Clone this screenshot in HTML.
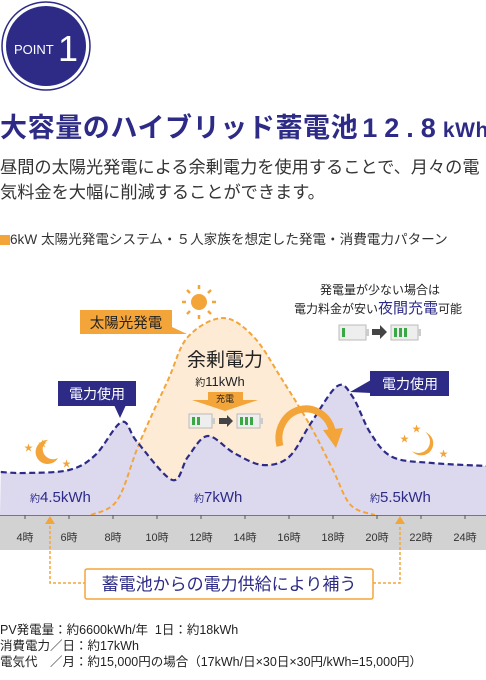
<!DOCTYPE html>
<html><head><meta charset="utf-8">
<style>
body{margin:0;width:486px;height:680px;overflow:hidden;background:#fff;font-family:"Liberation Sans","Noto Sans CJK JP",sans-serif;}
.abs{position:absolute;white-space:nowrap;}
</style></head>
<body>
<div style="position:relative;width:486px;height:680px;">
<svg width="486" height="100" style="position:absolute;left:0;top:0">
<circle cx="46" cy="46" r="44" fill="#fff" stroke="#2d2b86" stroke-width="1.5"/>
<circle cx="46" cy="46" r="40" fill="#2d2b86"/>
<text x="14" y="54" font-size="13" fill="#fff" font-family="Liberation Sans">POINT</text>
<text x="58" y="61" font-size="36" fill="#fff" font-family="Liberation Sans">1</text>
</svg>
<div class="abs" style="left:0;top:106px;font-size:27px;font-weight:bold;color:#2d2b86;letter-spacing:0.6px;">大容量のハイブリッド蓄電池<span style="letter-spacing:7px;margin-left:4px">12.8</span><span style="font-size:21px">kWh</span></div>
<div class="abs" style="left:0;top:155px;font-size:17.2px;line-height:25px;color:#333;">昼間の太陽光発電による余剰電力を使用することで、月々の電<br>気料金を大幅に削減することができます。</div>
<div class="abs" style="left:0;top:228px;font-size:13.6px;color:#333;"><span style="display:inline-block;width:10px;height:10px;background:#f3a53a;vertical-align:-1px;"></span>6kW 太陽光発電システム・５人家族を想定した発電・消費電力パターン</div>

<svg id="chart" width="486" height="680" style="position:absolute;left:0;top:0"></svg>

<div class="abs" style="left:0;top:622px;font-size:12.5px;line-height:16px;color:#222;">PV発電量：約6600kWh/年&nbsp; 1日：約18kWh<br>消費電力／日：約17kWh<br>電気代　／月：約15,000円の場合（17kWh/日×30日×30円/kWh=15,000円）</div>
</div>
<script>
const usageHours=[2.9,4,6,7.2,8.4,9.1,10.7,11.4,12.3,13.5,14.8,16,17,18.2,18.9,19.7,20.7,22.5,25];
const usageValues=[2.15,2.1,2.25,3.0,4.65,3.65,1.75,2.9,3.95,3.1,2.5,2.9,4.6,6.45,5.9,4.1,2.9,2.6,2.45];
const solarHours=[7.0,8.2,9.2,10.5,11.4,13.0,14.4,15.7,17.0,18.0,18.8,19.9];
const solarValues=[0,0.75,3.6,6.75,8.9,9.85,8.9,6.75,4.4,2.25,0.5,0];
const tickHours=[4,6,8,10,12,14,16,18,20,22,24];
const tickLabels=["4時","6時","8時","10時","12時","14時","16時","18時","20時","22時","24時"];
const NS="http://www.w3.org/2000/svg";
const svg=document.getElementById('chart');
const xs=h=>25+(h-4)*22;
const ys=v=>515-v*20;
function mk(tag,attrs,parent){const e=document.createElementNS(NS,tag);for(const k in attrs)e.setAttribute(k,attrs[k]);(parent||svg).appendChild(e);return e;}
function smooth(pts){let d=`M${pts[0][0]},${pts[0][1]}`;for(let i=0;i<pts.length-1;i++){const p0=pts[i-1]||pts[i],p1=pts[i],p2=pts[i+1],p3=pts[i+2]||p2;const c1=[p1[0]+(p2[0]-p0[0])/6,p1[1]+(p2[1]-p0[1])/6],c2=[p2[0]-(p3[0]-p1[0])/6,p2[1]-(p3[1]-p1[1])/6];d+=` C${c1[0]},${c1[1]} ${c2[0]},${c2[1]} ${p2[0]},${p2[1]}`;}return d;}
const up=usageHours.map((h,i)=>[xs(h),ys(usageValues[i])]);
const sp=solarHours.map((h,i)=>[xs(h),ys(solarValues[i])]);
const sd=smooth(sp), ud=smooth(up);
let e;
e=mk('path',{d:sd+` L${sp[0][0]},515 Z`,fill:'#fdebd6'});


e=mk('path',{d:ud+` L486,515 L0,515 Z`,fill:'#dcd9ef'});


e=mk('path',{d:sd,fill:'none',stroke:'#f3a53a','stroke-width':2,'stroke-dasharray':'5,3'});


e=mk('path',{d:ud,fill:'none',stroke:'#2d2b86','stroke-width':2.2,'stroke-dasharray':'6,3.5'});


e=mk('rect',{x:0,y:515,width:486,height:35,fill:'#d2d2d2'});


mk('line',{x1:0,y1:515.5,x2:486,y2:515.5,stroke:'#777','stroke-width':1});
tickHours.forEach((h,i)=>{
 mk('line',{x1:xs(h),y1:515,x2:xs(h),y2:519,stroke:'#555','stroke-width':1});
 const t=mk('text',{x:xs(h),y:541,'font-size':11,'text-anchor':'middle',fill:'#333'});
 t.textContent=tickLabels[i];
 
 
});
</script>
<svg width="486" height="680" style="position:absolute;left:0;top:0">
<g fill="#f3a53a">
<circle cx="199" cy="302" r="8"/>
<g stroke="#f3a53a" stroke-width="2.5"><line x1="199" y1="285" x2="199" y2="289"/><line x1="199" y1="315" x2="199" y2="319"/><line x1="182" y1="302" x2="186" y2="302"/><line x1="212" y1="302" x2="216" y2="302"/><line x1="187" y1="290" x2="190" y2="293"/><line x1="208" y1="311" x2="211" y2="314"/><line x1="187" y1="314" x2="190" y2="311"/><line x1="208" y1="293" x2="211" y2="290"/></g>
</g>
<g>
<path d="M80,310 H172 V327 L187,334 L172,334 H80 Z" fill="#f3a53a"/>
<text x="126" y="328" font-size="14.5" text-anchor="middle" fill="#222" font-family="Liberation Sans,Noto Sans CJK JP,sans-serif">太陽光発電</text>
</g>
<g>
<rect x="58" y="381" width="78" height="25" fill="#2d2b86"/>
<path d="M114,405 L126,405 L120,418 Z" fill="#2d2b86"/>
<text x="97" y="399" font-size="14" text-anchor="middle" fill="#fff" font-family="Liberation Sans,Noto Sans CJK JP,sans-serif">電力使用</text>
</g>
<g>
<rect x="370" y="371" width="79" height="25" fill="#2d2b86"/>
<path d="M371,380 L371,393 L350,392 Z" fill="#2d2b86"/>
<text x="410" y="389" font-size="14" text-anchor="middle" fill="#fff" font-family="Liberation Sans,Noto Sans CJK JP,sans-serif">電力使用</text>
</g>
<text x="225" y="366" font-size="19" text-anchor="middle" fill="#222" font-family="Liberation Sans,Noto Sans CJK JP,sans-serif">余剰電力</text>
<text x="220" y="386" font-size="13" text-anchor="middle" fill="#222" font-family="Liberation Sans,Noto Sans CJK JP,sans-serif"><tspan font-size="10">約</tspan>11kWh</text>
<g>
<path d="M208,392 H243 V400 L258,400 L225,411 L192,400 L208,400 Z" fill="#f3a53a"/>
<text x="225" y="402" font-size="9" text-anchor="middle" fill="#222" font-family="Liberation Sans,Noto Sans CJK JP,sans-serif">充電</text>
</g>
<g>
<rect x="189" y="414" width="23" height="14" fill="#eee" stroke="#bbb"/><rect x="212" y="418" width="3" height="6" fill="#ccc"/>
<rect x="192" y="417" width="3" height="8" fill="#3aa844"/><rect x="197" y="417" width="3" height="8" fill="#3aa844"/>
<path d="M219,418 H227 V415 L233,421 L227,427 V424 H219 Z" fill="#444"/>
<rect x="237" y="414" width="23" height="14" fill="#eee" stroke="#bbb"/><rect x="260" y="418" width="3" height="6" fill="#ccc"/>
<rect x="240" y="417" width="3" height="8" fill="#3aa844"/><rect x="245" y="417" width="3" height="8" fill="#3aa844"/><rect x="250" y="417" width="3" height="8" fill="#3aa844"/>
</g>
<g font-family="Liberation Sans,Noto Sans CJK JP,sans-serif" fill="#222">
<text x="380" y="294" font-size="12" text-anchor="middle">発電量が少ない場合は</text>
<text x="378" y="313" font-size="12" text-anchor="middle">電力料金が安い<tspan fill="#2d2b86" font-size="15">夜間充電</tspan>可能</text>
</g>
<g>
<rect x="339" y="325" width="27" height="15" fill="#eee" stroke="#bbb"/><rect x="366" y="329" width="3" height="7" fill="#ccc"/>
<rect x="342" y="328" width="3" height="9" fill="#3aa844"/>
<path d="M372,329 H380 V325 L387,332 L380,339 V335 H372 Z" fill="#444"/>
<rect x="391" y="325" width="27" height="15" fill="#eee" stroke="#bbb"/><rect x="418" y="329" width="3" height="7" fill="#ccc"/>
<rect x="394" y="328" width="3" height="9" fill="#3aa844"/><rect x="399" y="328" width="3" height="9" fill="#3aa844"/><rect x="404" y="328" width="3" height="9" fill="#3aa844"/>
</g>
<g>
<path d="M280,446 A26,28 0 0 1 332,430" fill="none" stroke="#f3a53a" stroke-width="7"/>
<path d="M323,430 L343,428 L336,448 Z" fill="#f3a53a"/>
</g>
<g fill="#f3a53a">
<path d="M48,440 A12,12 0 1 0 58,458 A10,10 0 0 1 48,440 Z"/>
<text x="38" y="447" font-size="9">★</text><text x="24" y="451" font-size="9">★</text><text x="62" y="467" font-size="9">★</text>
</g>
<g fill="#f3a53a">
<path d="M425,432 A12,12 0 1 1 412,451 A10,10 0 0 0 425,432 Z"/>
<text x="412" y="432" font-size="9">★</text><text x="400" y="442" font-size="9">★</text><text x="439" y="457" font-size="9">★</text>
</g>
<g font-family="Liberation Sans,Noto Sans CJK JP,sans-serif" fill="#2d2b86" font-size="15">
<text x="30" y="502"><tspan font-size="10">約</tspan>4.5kWh</text>
<text x="194" y="502"><tspan font-size="10">約</tspan>7kWh</text>
<text x="370" y="502"><tspan font-size="10">約</tspan>5.5kWh</text>
</g>
<g>
<path d="M50,526 V583 H85 M373,583 H400 V526" fill="none" stroke="#f3a53a" stroke-width="1.5" stroke-dasharray="3,2"/>
<path d="M45,524 L50,516 L55,524 Z M395,524 L400,516 L405,524 Z" fill="#f3a53a"/>
<rect x="85" y="569" width="288" height="30" rx="2" fill="#fff" stroke="#f3a53a" stroke-width="1.5"/>
<text x="229" y="590" font-size="17" text-anchor="middle" fill="#2d2b86" font-family="Liberation Sans,Noto Sans CJK JP,sans-serif">蓄電池からの電力供給により補う</text>
</g>
</svg>
</body></html>
